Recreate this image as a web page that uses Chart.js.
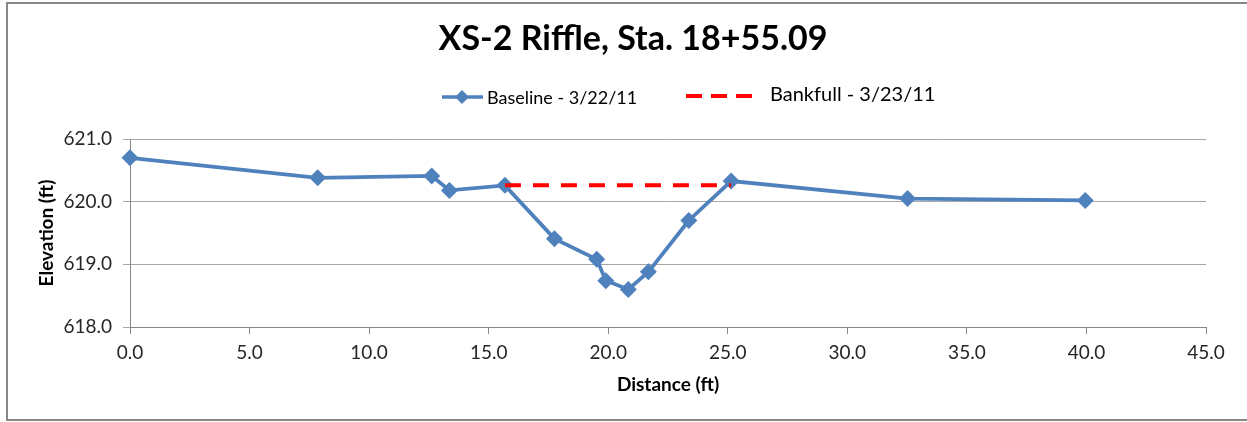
<!DOCTYPE html>
<html>
<head>
<meta charset="utf-8">
<script src="https://cdn.jsdelivr.net/npm/chart.js@4.4.1/dist/chart.umd.min.js"></script>
<style>
  html, body { margin: 0; padding: 0; background: #fff; }
  canvas { display: block; }
</style>
</head>
<body>
<canvas id="xs" width="1247" height="422"></canvas>
<script>
// Cross-section survey, XS-2 riffle
const chartTitle = 'XS-2 Riffle, Sta. 18+55.09';
const xTitle = 'Distance (ft)';
const yTitle = 'Elevation (ft)';

const baselineLabel = 'Baseline - 3/22/11';
const baselineDistance = [0, 7.85, 12.62, 13.36, 15.68, 17.75, 19.52, 19.9, 20.84, 21.68, 23.37, 25.14, 32.52, 39.95];
const baselineElevation = [620.70, 620.38, 620.41, 620.18, 620.26, 619.41, 619.08, 618.74, 618.60, 618.88, 619.70, 620.33, 620.05, 620.02];

const bankfullLabel = 'Bankfull - 3/23/11';
const bankfullDistance = [15.68, 25.14];
const bankfullElevation = [620.26, 620.26];

const xTicks = [0, 5, 10, 15, 20, 25, 30, 35, 40, 45];
const yTicks = [618, 619, 620, 621];

const BLUE = '#4F81BD';
const RED = '#FF0000';
const FONT = 'Lato, "Open Sans", sans-serif';

const toPoints = (xs, ys) => xs.map((x, i) => ({ x, y: ys[i] }));

// white page plus the grey chart-area frame
const framePlugin = {
  id: 'frame',
  beforeDraw(chart) {
    const ctx = chart.ctx;
    ctx.save();
    ctx.fillStyle = '#ffffff';
    ctx.fillRect(0, 0, chart.width, chart.height);
    ctx.strokeStyle = '#878787';
    ctx.lineWidth = 2;
    ctx.strokeRect(7, 3, chart.width + 20, 417);
    ctx.restore();
  }
};

function diamond(ctx, x, y, r) {
  ctx.beginPath();
  ctx.moveTo(x, y - r);
  ctx.lineTo(x + r, y);
  ctx.lineTo(x, y + r);
  ctx.lineTo(x - r, y);
  ctx.closePath();
  ctx.fill();
}

// title, legend and axis titles
const textPlugin = {
  id: 'texts',
  afterDraw(chart) {
    const ctx = chart.ctx;
    const area = chart.chartArea;
    const ds = chart.data.datasets;
    ctx.save();
    ctx.fillStyle = '#000';
    ctx.textBaseline = 'middle';

    ctx.font = 'bold 34px ' + FONT;
    ctx.textAlign = 'center';
    ctx.fillText(chartTitle, 633, 39);

    // legend: baseline
    ctx.strokeStyle = BLUE;
    ctx.lineWidth = 3.5;
    ctx.beginPath();
    ctx.moveTo(442, 97);
    ctx.lineTo(483, 97);
    ctx.stroke();
    ctx.fillStyle = BLUE;
    diamond(ctx, 462, 97, 7);
    ctx.fillStyle = '#000';
    ctx.font = '18px ' + FONT;
    ctx.textAlign = 'left';
    ctx.fillText(ds[0].label, 487, 98);

    // legend: bankfull
    ctx.strokeStyle = RED;
    ctx.lineWidth = 4;
    ctx.setLineDash([16, 9]);
    ctx.beginPath();
    ctx.moveTo(686, 96);
    ctx.lineTo(752, 96);
    ctx.stroke();
    ctx.setLineDash([]);
    ctx.font = '20px ' + FONT;
    ctx.fillText(ds[1].label, 770, 95);

    // axis titles
    ctx.font = 'bold 19px ' + FONT;
    ctx.textAlign = 'center';
    ctx.fillText(xTitle, (area.left + area.right) / 2, 385);
    ctx.translate(47, (area.top + area.bottom) / 2);
    ctx.rotate(-Math.PI / 2);
    ctx.fillText(yTitle, 0, 0);
    ctx.restore();
  }
};

new Chart(document.getElementById('xs'), {
  type: 'scatter',
  data: {
    datasets: [
      {
        label: baselineLabel,
        data: toPoints(baselineDistance, baselineElevation),
        showLine: true,
        borderColor: BLUE,
        backgroundColor: BLUE,
        borderWidth: 3.8,
        tension: 0,
        pointStyle: 'rectRot',
        pointRadius: 8.5,
        pointHoverRadius: 8.5,
        pointBorderWidth: 0,
        clip: false,
        order: 1
      },
      {
        label: bankfullLabel,
        data: toPoints(bankfullDistance, bankfullElevation),
        showLine: true,
        borderColor: RED,
        backgroundColor: RED,
        borderWidth: 4,
        borderDash: [16, 12],
        borderCapStyle: 'butt',
        pointRadius: 0,
        pointHoverRadius: 0,
        clip: false,
        order: 0
      }
    ]
  },
  options: {
    responsive: false,
    animation: false,
    events: [],
    layout: { padding: { left: 0, right: 41, top: 139, bottom: 0 } },
    plugins: {
      legend: { display: false },
      title: { display: false },
      tooltip: { enabled: false }
    },
    scales: {
      x: {
        type: 'linear',
        min: xTicks[0],
        max: xTicks[xTicks.length - 1],
        afterFit(scale) { scale.height = 95; },
        afterBuildTicks(scale) { scale.ticks = xTicks.map(v => ({ value: v })); },
        border: { display: true, color: '#878787', width: 1 },
        grid: { drawOnChartArea: false, drawTicks: true, tickLength: 7, color: '#878787' },
        ticks: {
          padding: 7,
          color: '#262626',
          font: { family: FONT, size: 19 },
          maxRotation: 0,
          callback: v => Number(v).toFixed(1)
        }
      },
      y: {
        type: 'linear',
        min: yTicks[0],
        max: yTicks[yTicks.length - 1],
        afterFit(scale) { scale.width = 130; },
        afterBuildTicks(scale) { scale.ticks = yTicks.map(v => ({ value: v })); },
        border: { display: true, color: '#878787', width: 1 },
        grid: { drawTicks: true, tickLength: 7, color: '#a6a6a6', lineWidth: 1 },
        ticks: {
          padding: 11,
          color: '#262626',
          font: { family: FONT, size: 19 },
          callback: v => Number(v).toFixed(1)
        }
      }
    }
  },
  plugins: [framePlugin, textPlugin]
});
</script>
</body>
</html>
